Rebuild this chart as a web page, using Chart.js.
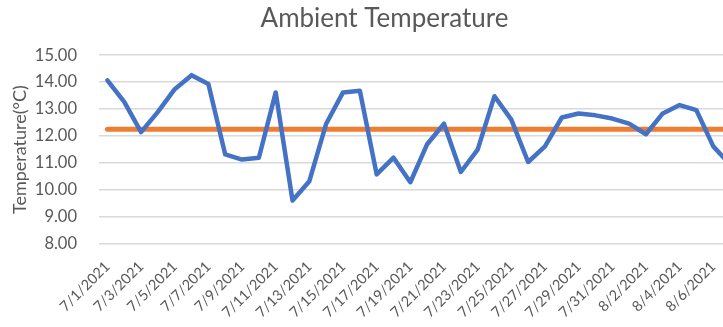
<!DOCTYPE html>
<html>
<head>
<meta charset="utf-8">
<script src="https://cdn.jsdelivr.net/npm/chart.js@4"></script>
<style>
  html, body { margin: 0; padding: 0; background: #ffffff; overflow: hidden; }
  #wrap { width: 769px; height: 327px; }
</style>
</head>
<body>
<div id="wrap"><canvas id="chart" width="769" height="327"></canvas></div>
<script>
// Daily dates, 7/1/2021 through 8/7/2021
const dates = [
  '7/1/2021','7/2/2021','7/3/2021','7/4/2021','7/5/2021','7/6/2021','7/7/2021','7/8/2021',
  '7/9/2021','7/10/2021','7/11/2021','7/12/2021','7/13/2021','7/14/2021','7/15/2021','7/16/2021',
  '7/17/2021','7/18/2021','7/19/2021','7/20/2021','7/21/2021','7/22/2021','7/23/2021','7/24/2021',
  '7/25/2021','7/26/2021','7/27/2021','7/28/2021','7/29/2021','7/30/2021','7/31/2021','8/1/2021',
  '8/2/2021','8/3/2021','8/4/2021','8/5/2021','8/6/2021','8/7/2021'
];

// Daily ambient temperature (°C)
const temps = [
  14.07, 13.27, 12.15, 12.90, 13.74, 14.26, 13.93, 11.32,
  11.13, 11.20, 13.62, 9.61, 10.33, 12.46, 13.62, 13.68,
  10.58, 11.20, 10.29, 11.70, 12.46, 10.67, 11.50, 13.48,
  12.61, 11.04, 11.62, 12.69, 12.84, 12.77, 12.65, 12.46,
  12.07, 12.84, 13.15, 12.96, 11.62, 10.95
];

// Period mean temperature (°C), drawn as a flat reference line
const meanTemp = 12.25;
const meanLine = dates.map(() => meanTemp);

// Y axis range and step
const yMin = 8, yMax = 15, yStep = 1;

const textColor = '#595959';
const gridColor = '#d9d9d9';
const fontFamily = 'Lato, "Open Sans", sans-serif';

new Chart(document.getElementById('chart'), {
  type: 'line',
  data: {
    labels: dates,
    datasets: [
      {
        label: 'Temperature',
        data: temps,
        borderColor: '#4472C4',
        borderWidth: 4.5,
        pointRadius: 0,
        tension: 0,
        borderJoinStyle: 'round',
        borderCapStyle: 'round'
      },
      {
        label: 'Mean',
        data: meanLine,
        borderColor: '#ED7D31',
        borderWidth: 5,
        pointRadius: 0,
        tension: 0,
        borderCapStyle: 'round'
      }
    ]
  },
  options: {
    responsive: false,
    animation: false,
    events: [],
    layout: { padding: 0 },
    plugins: {
      legend: { display: false },
      tooltip: { enabled: false },
      title: {
        display: true,
        text: 'Ambient Temperature',
        color: textColor,
        font: { family: fontFamily, size: 26, weight: 'normal' },
        padding: { top: 3, bottom: 21 }
      }
    },
    scales: {
      x: {
        offset: true,
        grid: { display: false, drawTicks: false },
        border: { display: false },
        ticks: {
          color: textColor,
          font: { family: fontFamily, size: 14.5 },
          autoSkip: false,
          maxRotation: 45,
          minRotation: 45,
          padding: 14,
          callback: function (value, index) {
            return index % 2 === 0 ? this.getLabelForValue(value) : '';
          }
        },
        afterFit: (scale) => { scale.height = 83; }
      },
      y: {
        min: yMin,
        max: yMax,
        grid: { color: gridColor, lineWidth: 1.5, drawTicks: false },
        border: { display: false },
        ticks: {
          stepSize: yStep,
          color: textColor,
          font: { family: fontFamily, size: 16.5 },
          padding: 22,
          callback: (v) => Number(v).toFixed(2)
        },
        title: {
          display: true,
          text: 'Temperature(°C)',
          color: textColor,
          font: { family: fontFamily, size: 18 },
          padding: { top: 9, bottom: 0 }
        },
        afterFit: (scale) => { scale.width = 99; }
      },
      // empty right-hand margin strip of the chart frame
      yRight: {
        position: 'right',
        min: yMin,
        max: yMax,
        grid: { display: false, drawTicks: false },
        border: { display: false },
        ticks: { display: false },
        afterFit: (scale) => { scale.width = 30.5; }
      }
    }
  }
});
</script>
</body>
</html>
